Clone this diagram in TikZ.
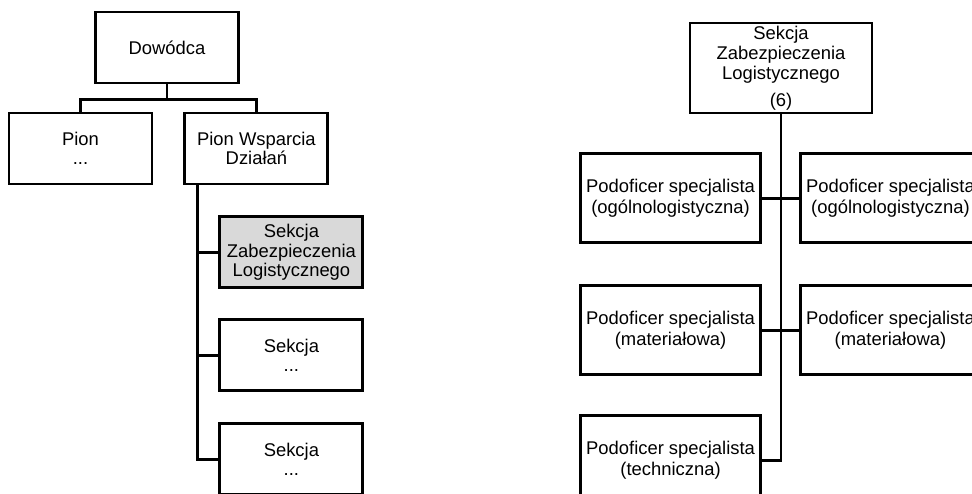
\documentclass[tikz,border=0pt]{standalone}
\usepackage{fontspec}
\setmainfont{Liberation Sans}
\usetikzlibrary{positioning}

\begin{document}
\begin{tikzpicture}[x=1pt,y=1pt,line width=2.9pt,
  box/.style={draw,rectangle,align=center,inner sep=2pt,minimum width=143pt,minimum height=71pt,font=\fontsize{18.4}{19.5}\selectfont},
  pbox/.style={box,minimum width=180pt,minimum height=89pt,font=\fontsize{18.4}{20.5}\selectfont}]
\useasboundingbox (0,0) rectangle (972,-493);
\clip (0,0) rectangle (972,-493);

\node[box] (dow) at (167,-47.5) {Dowódca};
\node[box] (pion) at (80.5,-148.5) {Pion\\...};
\node[box, right=30pt of pion] (pwd) {Pion Wsparcia\\Działań};
\node[box, fill=gray!30, below right=30pt and 35pt of pwd.south west] (szl) {Sekcja\\Zabezpieczenia\\Logistycznego};
\node[box, below=29pt of szl] (sek1) {Sekcja\\...};
\node[box, below=30pt of sek1] (sek2) {Sekcja\\...};
\coordinate [below=15pt of dow] (j);
\coordinate (t) at ([xshift=14pt]pwd.south west);

\draw (dow) -- (j) -| (pion);
\draw (j) -| (pwd);
\draw (t) |- (szl);
\draw (t) |- (sek1);
\draw (t) |- (sek2);

\node[pbox, minimum width=182pt, minimum height=90pt, font=\fontsize{18.4}{20}\selectfont] (rt) at (781,-68) {Sekcja\\Zabezpieczenia\\Logistycznego\\[7pt](6)};
\node[pbox, below left=38pt and 19pt of rt.south] (p1l) {Podoficer specjalista\\(ogólnologistyczna)};
\node[pbox, below right=38pt and 18pt of rt.south] (p1r) {Podoficer specjalista\\(ogólnologistyczna)};
\node[pbox, below=40pt of p1l] (p2l) {Podoficer specjalista\\(materiałowa)};
\node[pbox, below=40pt of p1r] (p2r) {Podoficer specjalista\\(materiałowa)};
\node[pbox, below=38pt of p2l] (p3l) {Podoficer specjalista\\(techniczna)};

\draw (rt) |- (p3l);
\draw (p1l) -- (p1r);
\draw (p2l) -- (p2r);
\end{tikzpicture}
\end{document}
